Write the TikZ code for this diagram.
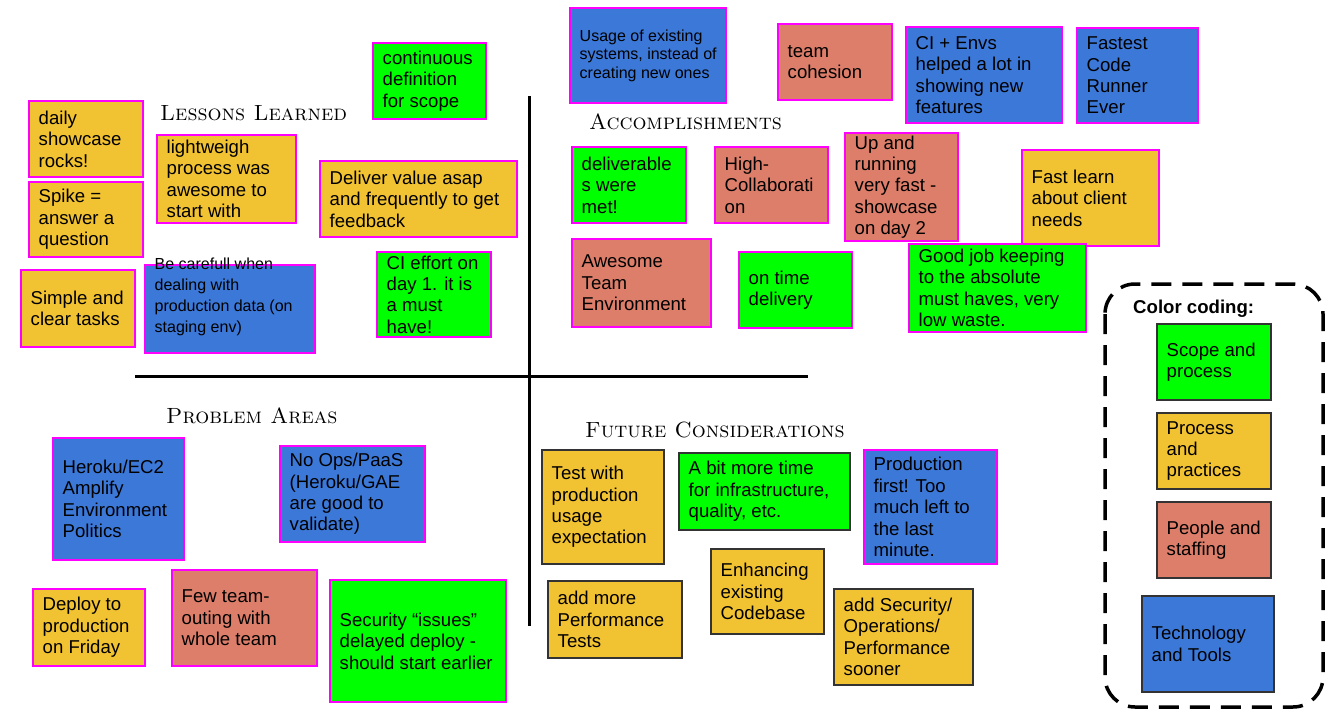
\documentclass[tikz,border=0pt]{standalone}
\usepackage{fontspec}
\setmainfont{Liberation Sans}
\definecolor{scopegreen}{HTML}{00FF00}
\definecolor{procyellow}{HTML}{F1C232}
\definecolor{peoplered}{HTML}{DD7E6B}
\definecolor{techblue}{HTML}{3C78D8}
\definecolor{edgepink}{HTML}{FF00FF}
\definecolor{edgedark}{HTML}{333333}
\newcommand{\notefont}{\fontsize{18.6}{21.4}\selectfont}
\newcommand{\smallnotefont}{\fontsize{16}{18.4}\selectfont}
\newcommand{\headfont}{\fontfamily{lmr}\fontshape{sc}\fontsize{22}{22}\selectfont}
\tikzset{
  note/.style={line width=1.5pt},
  pinkedge/.style={note,draw=edgepink},
  darkedge/.style={note,draw=edgedark},
  scopenote/.style={fill=scopegreen},
  procnote/.style={fill=procyellow},
  peoplenote/.style={fill=peoplered},
  technote/.style={fill=techblue},
  notetext/.style={anchor=west,align=left,inner sep=0pt,font=\notefont},
  heading/.style={anchor=west,inner sep=0pt,font=\headfont},
  axisline/.style={line width=3pt},
  legendedge/.style={line width=3.5pt,dash pattern=on 20pt off 11pt,rounded corners=30pt},
}
% [text options]{name}{x}{y}{w}{h}{look}{text}
\newcommand{\sticky}[8][]{%
  \draw[#7](#3,#4)rectangle++(#5,#6);
  \node[notetext,#1](#2)at(#3+9.5,#4+#6/2){#8};}
\begin{document}
\begin{tikzpicture}[x=1pt,y=-1pt]
\useasboundingbox(0,0)rectangle(1343,719);
%quadrants
\draw[axisline](529,96)--(529,626);
\draw[axisline](135,376)--(808,376);
\node[heading](lessons)at(160,113){Lessons Learned};
\node[heading](accomp)at(589,122){Accomplishments};
\node[heading](problems)at(166,416){Problem Areas};
\node[heading](future)at(585,430){Future Considerations};
%lessons learned
\sticky{daily}{29}{101}{114}{76}{procnote,pinkedge}{daily\\showcase\\rocks!}
\sticky{spike}{29}{182}{114}{75}{procnote,pinkedge}{Spike =\\answer a\\question}
\sticky{lightweigh}{157}{135}{139}{88}{procnote,pinkedge}{lightweigh\\process was\\awesome to\\start with}
\sticky{simple}{21}{270}{114}{77}{procnote,pinkedge}{Simple and\\clear tasks}
\sticky[font=\fontsize{16}{21}\selectfont,yshift=12pt]{careful}{145}{265}{170}{88}{technote,pinkedge}{Be carefull when\\dealing with\\production data (on\\staging env)}
\sticky{deliver}{320}{161}{197}{76}{procnote,pinkedge}{Deliver value asap\\and frequently to get\\feedback}
\sticky{scope}{373}{43}{113}{76}{scopenote,pinkedge}{continuous\\definition\\for scope}
\sticky{cieffort}{377}{252}{114}{85}{scopenote,pinkedge}{CI effort on\\day 1. it is\\a must\\have!}
%accomplishments
\sticky[font=\smallnotefont]{usage}{570}{8}{156}{95}{technote,pinkedge}{Usage of existing\\systems, instead of\\creating new ones}
\sticky{cohesion}{778}{24}{114}{76}{peoplenote,pinkedge}{team\\cohesion}
\sticky{cienvs}{906}{27}{156}{96}{technote,pinkedge}{CI + Envs\\helped a lot in\\showing new\\features}
\sticky{fastest}{1077}{28}{121}{95}{technote,pinkedge}{Fastest\\Code\\Runner\\Ever}
\sticky{deliverables}{572}{147}{114}{76}{scopenote,pinkedge}{deliverable\\s were\\met!}
\sticky{collab}{715}{147}{113}{76}{peoplenote,pinkedge}{High-\\Collaborati\\on}
\sticky{uprunning}{845}{133}{113}{108}{peoplenote,pinkedge}{Up and\\running\\very fast -\\showcase\\on day 2}
\sticky{fastlearn}{1022}{150}{137}{96}{procnote,pinkedge}{Fast learn\\about client\\needs}
\sticky{awesome}{572}{239}{139}{88}{peoplenote,pinkedge}{Awesome\\Team\\Environment}
\sticky{ontime}{739}{252}{113}{76}{scopenote,pinkedge}{on time\\delivery}
\sticky{goodjob}{909}{244}{177}{88}{scopenote,pinkedge}{Good job keeping\\to the absolute\\must haves, very\\low waste.}
%problem areas
\sticky{heroku}{53}{438}{131}{122}{technote,pinkedge}{Heroku/EC2\\Amplify\\Environment\\Politics}
\sticky{noops}{280}{446}{145}{96}{technote,pinkedge}{No Ops/PaaS\\(Heroku/GAE\\are good to\\validate)}
\sticky{friday}{33}{589}{112}{77}{procnote,pinkedge}{Deploy to\\production\\on Friday}
\sticky{outing}{172}{570}{145}{96}{peoplenote,pinkedge}{Few team-\\outing with\\whole team}
\sticky{security}{330}{580}{176}{122}{scopenote,pinkedge}{Security “issues”\\delayed deploy -\\should start earlier}
%future considerations
\sticky{testprod}{542}{450}{122}{114}{procnote,darkedge}{Test with\\production\\usage\\expectation}
\sticky{moretime}{679}{453}{171}{77}{scopenote,darkedge}{A bit more time\\for infrastructure,\\quality, etc.}
\sticky{prodfirst}{864}{450}{133}{114}{technote,pinkedge}{Production\\first! Too\\much left to\\the last\\minute.}
\sticky{perftests}{548}{581}{134}{77}{procnote,darkedge}{add more\\Performance\\Tests}
\sticky{codebase}{711}{549}{113}{85}{procnote,darkedge}{Enhancing\\existing\\Codebase}
\sticky{secops}{834}{589}{139}{96}{procnote,darkedge}{add Security/\\Operations/\\Performance\\sooner}
%color coding
\draw[legendedge](1105,284)rectangle(1323,707);
\node[anchor=west,inner sep=0pt,font=\fontsize{18.6}{21.4}\selectfont\bfseries](coding)at(1133,309){Color coding:};
\sticky{lscope}{1157}{324}{114}{76}{scopenote,darkedge}{Scope and\\process}
\sticky{lproc}{1157}{413}{114}{76}{procnote,darkedge}{Process\\and\\practices}
\sticky{lpeople}{1157}{502}{114}{76}{peoplenote,darkedge}{People and\\staffing}
\sticky{ltech}{1142}{596}{132}{96}{technote,darkedge}{Technology\\and Tools}
\end{tikzpicture}
\end{document}
